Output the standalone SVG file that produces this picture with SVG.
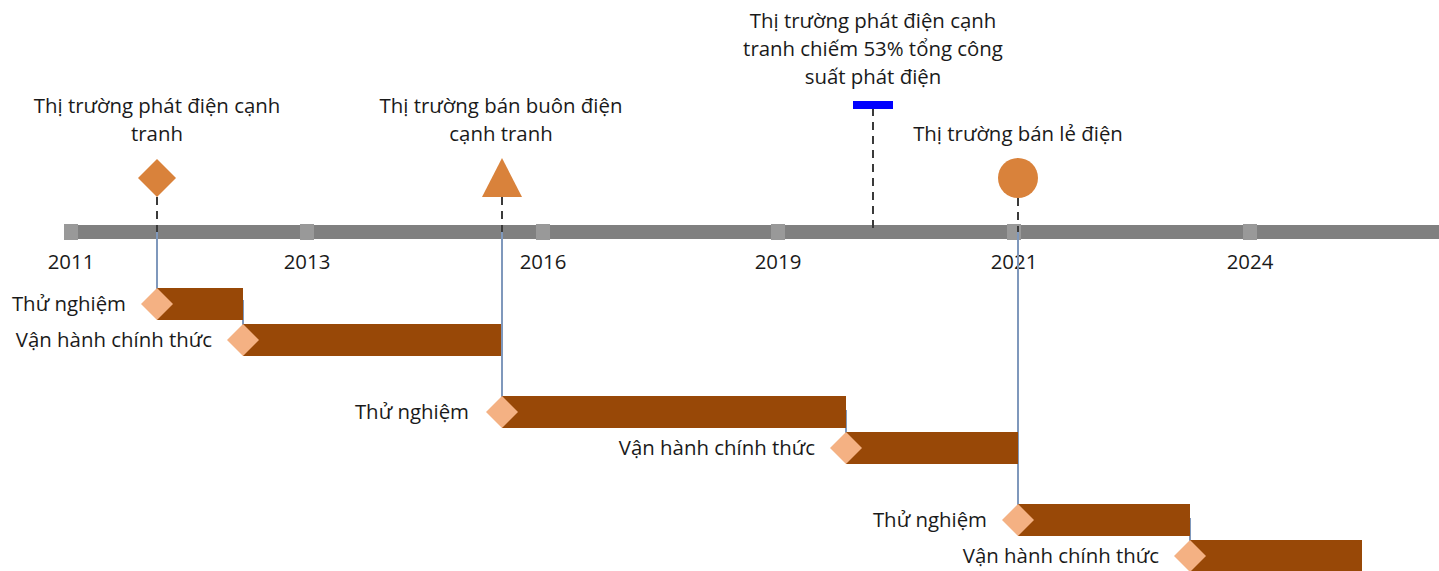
<svg xmlns="http://www.w3.org/2000/svg" width="1439" height="571" viewBox="0 0 1439 571">
<style>
text{font-family:"Open Sans","Noto Sans","Liberation Sans",sans-serif;font-size:20.4px;fill:#1a1a1a}
.c{text-anchor:middle}
.r{text-anchor:end}
.bar{fill:#984807}
.dm{fill:#F4B183}
.vl{stroke:#7F98BC;stroke-width:2;fill:none}
.dash{stroke:#3a3a3a;stroke-width:2;stroke-dasharray:8,6;fill:none}
.tick{fill:#999999}
.ms{fill:#D9823B}
</style>
<rect width="1439" height="571" fill="#fff"/>
<g id="axis">
<rect x="64" y="225" width="1375" height="14" fill="#808080"/>
<rect class="tick" x="64" y="224" width="14" height="16"/>
<rect class="tick" x="300" y="224" width="14" height="16"/>
<rect class="tick" x="536" y="224" width="14" height="16"/>
<rect class="tick" x="771" y="224" width="14" height="16"/>
<rect class="tick" x="1007" y="224" width="14" height="16"/>
<rect class="tick" x="1243" y="224" width="14" height="16"/>
<text class="c" x="71" y="269">2011</text>
<text class="c" x="307" y="269">2013</text>
<text class="c" x="543" y="269">2016</text>
<text class="c" x="778" y="269">2019</text>
<text class="c" x="1014" y="269">2021</text>
<text class="c" x="1250" y="269">2024</text>
</g>
<g id="connectors">
<line class="dash" x1="157" y1="197" x2="157" y2="232"/>
<line class="dash" x1="502" y1="197" x2="502" y2="232"/>
<line class="dash" x1="873" y1="108" x2="873" y2="229"/>
<line class="dash" x1="1018" y1="198" x2="1018" y2="232"/>
<line class="vl" x1="157" y1="232" x2="157" y2="304"/>
<line class="vl" x1="243" y1="300" x2="243" y2="340"/>
<line class="vl" x1="502" y1="232" x2="502" y2="412"/>
<line class="vl" x1="846" y1="410" x2="846" y2="448"/>
<line class="vl" x1="1018" y1="232" x2="1018" y2="520"/>
<line class="vl" x1="1190" y1="518" x2="1190" y2="556"/>
</g>
<g id="m1">
<polygon class="ms" points="157,159 176,178 157,197 138,178"/>
<text class="c" x="157" y="113">Thị trường phát điện cạnh</text>
<text class="c" x="157" y="141">tranh</text>
</g>
<g id="m2">
<polygon class="ms" points="502,158 522,197 482,197"/>
<text class="c" x="501" y="113">Thị trường bán buôn điện</text>
<text class="c" x="501" y="141">cạnh tranh</text>
</g>
<g id="m3">
<rect x="853" y="101" width="40" height="8" fill="#0000FF"/>
<text class="c" x="873" y="28">Thị trường phát điện cạnh</text>
<text class="c" x="873" y="56">tranh chiếm 53% tổng công</text>
<text class="c" x="873" y="84">suất phát điện</text>
</g>
<g id="m4">
<circle class="ms" cx="1018" cy="178" r="20"/>
<text class="c" x="1018" y="141">Thị trường bán lẻ điện</text>
</g>
<g id="t1">
<rect class="bar" x="157" y="288" width="86" height="32"/>
<polygon class="dm" points="157,288 173,304 157,320 141,304"/>
<text class="r" x="126" y="311">Thử nghiệm</text>
</g>
<g id="t2">
<rect class="bar" x="243" y="324" width="258" height="32"/>
<polygon class="dm" points="243,324 259,340 243,356 227,340"/>
<text class="r" x="212" y="347">Vận hành chính thức</text>
</g>
<g id="t3">
<rect class="bar" x="502" y="396" width="344" height="32"/>
<polygon class="dm" points="502,396 518,412 502,428 486,412"/>
<text class="r" x="469" y="419">Thử nghiệm</text>
</g>
<g id="t4">
<rect class="bar" x="846" y="432" width="172" height="32"/>
<polygon class="dm" points="846,432 862,448 846,464 830,448"/>
<text class="r" x="815" y="455">Vận hành chính thức</text>
</g>
<g id="t5">
<rect class="bar" x="1018" y="504" width="172" height="32"/>
<polygon class="dm" points="1018,504 1034,520 1018,536 1002,520"/>
<text class="r" x="987" y="527">Thử nghiệm</text>
</g>
<g id="t6">
<rect class="bar" x="1190" y="540" width="172" height="32"/>
<polygon class="dm" points="1190,540 1206,556 1190,572 1174,556"/>
<text class="r" x="1159" y="563">Vận hành chính thức</text>
</g>
</svg>
